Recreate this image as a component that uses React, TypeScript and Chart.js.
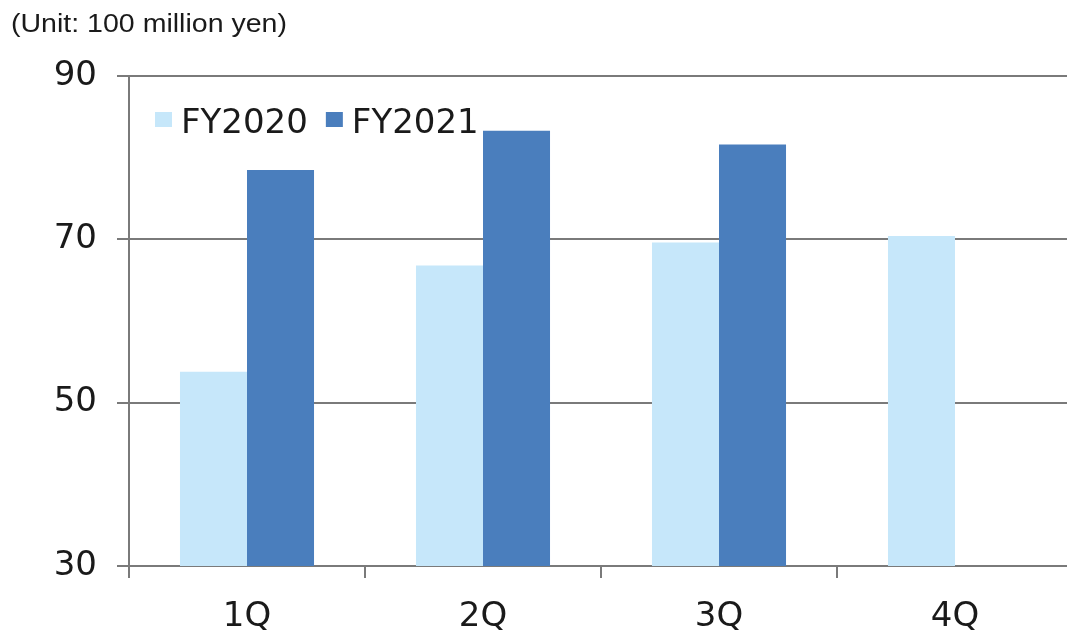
import React, { useEffect, useRef } from "react";
import { Chart, registerables } from "chart.js";

Chart.register(...registerables);

// Quarterly figures, unit: 100 million yen
const quarters = ["1Q", "2Q", "3Q", "4Q"];
const fy2020 = [53.8, 66.8, 69.6, 70.4];
const fy2021 = [78.5, 83.3, 81.6, null];
const seriesNames = ["FY2020", "FY2021"];
const seriesColors = ["#C6E7FA", "#4A7EBD"];
const unitNote = "(Unit: 100 million yen)";

const AXIS_GRAY = "#7a7a7a";
const TEXT = "#1a1a1a";
const MAIN_FONT = "'DejaVu Sans', Verdana, sans-serif";

// Unit caption in the top-left corner, slightly widened like the original typeface
const unitNotePlugin = {
  id: "unitNote",
  afterDraw(chart: any) {
    const ctx = chart.ctx;
    ctx.save();
    ctx.font = "25px 'Liberation Sans', Arial, sans-serif";
    ctx.fillStyle = TEXT;
    ctx.textBaseline = "alphabetic";
    ctx.textAlign = "left";
    const w = ctx.measureText(unitNote).width;
    const sx = 276 / w;
    ctx.translate(11, 32);
    ctx.scale(sx, 1);
    ctx.fillText(unitNote, 0, 0);
    ctx.restore();
  },
};

// Legend drawn inside the plot area, top-left
const innerLegendPlugin = {
  id: "innerLegend",
  afterDraw(chart: any) {
    const ctx = chart.ctx;
    const area = chart.chartArea;
    ctx.save();
    ctx.font = `34px ${MAIN_FONT}`;
    ctx.textBaseline = "alphabetic";
    ctx.textAlign = "left";
    let x = area.left + 26;
    const baseline = area.top + 57;
    chart.data.datasets.forEach((ds: any) => {
      ctx.fillStyle = ds.backgroundColor;
      ctx.fillRect(x, baseline - 21, 17, 15);
      x += 17 + 9;
      ctx.fillStyle = TEXT;
      ctx.fillText(ds.label, x, baseline);
      x += ctx.measureText(ds.label).width + 18;
    });
    ctx.restore();
  },
};

export default function App() {
  const canvasRef = useRef<HTMLCanvasElement | null>(null);

  useEffect(() => {
    if (!canvasRef.current) return;
    const chart = new Chart(canvasRef.current, {
      type: "bar",
      data: {
        labels: quarters,
        datasets: [
          {
            label: seriesNames[0],
            data: fy2020,
            backgroundColor: seriesColors[0],
            borderWidth: 0,
          },
          {
            label: seriesNames[1],
            data: fy2021,
            backgroundColor: seriesColors[1],
            borderWidth: 0,
          },
        ],
      },
      options: {
        animation: false,
        responsive: true,
        maintainAspectRatio: false,
        layout: { padding: { top: 76, right: 7, bottom: 0, left: 0 } },
        datasets: {
          bar: { categoryPercentage: 0.568, barPercentage: 1 },
        },
        plugins: {
          legend: { display: false },
          title: { display: false },
          tooltip: { enabled: false },
        },
        scales: {
          x: {
            offset: true,
            grid: {
              offset: true,
              drawOnChartArea: false,
              drawTicks: true,
              tickLength: 12,
              color: AXIS_GRAY,
              lineWidth: 2,
            },
            border: { display: true, color: AXIS_GRAY, width: 2 },
            ticks: {
              color: TEXT,
              padding: 19,
              font: { family: MAIN_FONT, size: 34 },
              maxRotation: 0,
            },
            afterFit(scale: any) {
              scale.height = 71;
            },
          },
          y: {
            min: 30,
            max: 90,
            grid: {
              drawOnChartArea: true,
              drawTicks: true,
              tickLength: 12,
              color: AXIS_GRAY,
              lineWidth: 2,
            },
            border: { display: true, color: AXIS_GRAY, width: 2 },
            ticks: {
              stepSize: 20,
              color: TEXT,
              padding: 20,
              font: { family: MAIN_FONT, size: 34 },
            },
            afterFit(scale: any) {
              scale.width = 129;
            },
          },
        },
      },
      plugins: [unitNotePlugin, innerLegendPlugin],
    });
    return () => chart.destroy();
  }, []);

  return (
    <div
      style={{
        position: "fixed",
        left: 0,
        top: 0,
        width: 1067,
        height: 637,
        overflow: "hidden",
        background: "#ffffff",
      }}
    >
      <div style={{ position: "relative", width: 1080, height: 637 }}>
        <canvas ref={canvasRef} />
      </div>
    </div>
  );
}
